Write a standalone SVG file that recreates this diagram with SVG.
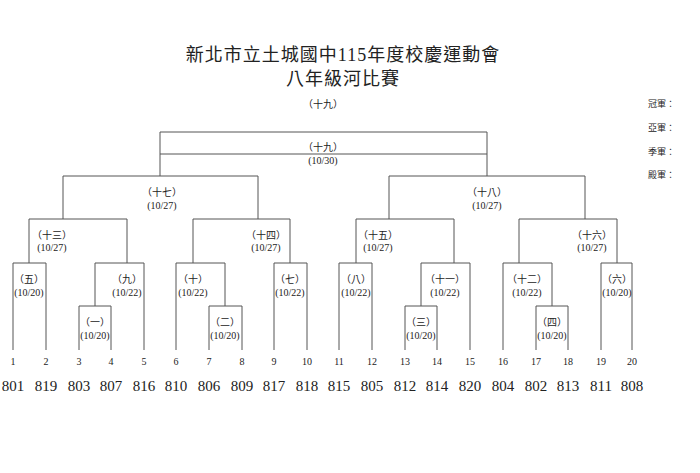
<svg xmlns="http://www.w3.org/2000/svg" width="700" height="473" viewBox="0 0 700 473">
<style>
text{font-family:"Liberation Serif","Noto Sans CJK TC",serif;fill:#222;text-anchor:middle}
.t{font-size:18px;letter-spacing:1px}
.l{font-size:10px}
.n{font-size:10px}
.s{font-size:15px}
.r{font-size:9px;text-anchor:start}
#connectors path{fill:none;stroke:#555;stroke-width:1}
</style>
<rect width="700" height="473" fill="#fff"/>
<g id="title">
<text class="t" x="343" y="61">新北市立土城國中115年度校慶運動會</text>
<text class="t" x="343" y="85">八年級河比賽</text>
<text class="l" x="323" y="108">（十九）</text>
</g>
<g id="awards">
<text class="r" x="648" y="107">冠軍：</text>
<text class="r" x="648" y="131">亞軍：</text>
<text class="r" x="648" y="155">季軍：</text>
<text class="r" x="648" y="178">殿軍：</text>
</g>
<g id="connectors">
<path d="M160,154V132H487V154M160,154H487M160,154V176M487,154V176"/>
<path d="M63,219V176H258V219M389,219V176H585V219"/>
<path d="M29,263V219H127V263M193,263V219H290V263M356,263V219H454V263M519,263V219H617V263"/>
<path d="M13,350V263H46V350"/>
<path d="M95,306V263H144V350"/>
<path d="M176,350V263H225V306"/>
<path d="M274,350V263H307V350"/>
<path d="M339,350V263H372V350"/>
<path d="M421,306V263H470V350"/>
<path d="M503,350V263H552V306"/>
<path d="M601,350V263H632V350"/>
<path d="M79,350V306H111V350M209,350V306H242V350M405,350V306H437V350M536,350V306H568V350"/>
</g>
<g id="m19"><text class="l" x="323" y="151">（十九）</text><text class="l" x="323" y="164">(10/30)</text></g>
<g id="m17"><text class="l" x="162" y="196">（十七）</text><text class="l" x="162" y="209">(10/27)</text></g>
<g id="m18"><text class="l" x="487" y="196">（十八）</text><text class="l" x="487" y="209">(10/27)</text></g>
<g id="m13"><text class="l" x="52" y="239">（十三）</text><text class="l" x="52" y="251">(10/27)</text></g>
<g id="m14"><text class="l" x="266" y="239">（十四）</text><text class="l" x="266" y="251">(10/27)</text></g>
<g id="m15"><text class="l" x="378" y="239">（十五）</text><text class="l" x="378" y="251">(10/27)</text></g>
<g id="m16"><text class="l" x="592" y="239">（十六）</text><text class="l" x="592" y="251">(10/27)</text></g>
<g id="m5"><text class="l" x="29" y="283">（五）</text><text class="l" x="29" y="296">(10/20)</text></g>
<g id="m9"><text class="l" x="127" y="283">（九）</text><text class="l" x="127" y="296">(10/22)</text></g>
<g id="m10"><text class="l" x="193" y="283">（十）</text><text class="l" x="193" y="296">(10/22)</text></g>
<g id="m7"><text class="l" x="290" y="283">（七）</text><text class="l" x="290" y="296">(10/22)</text></g>
<g id="m8"><text class="l" x="356" y="283">（八）</text><text class="l" x="356" y="296">(10/22)</text></g>
<g id="m11"><text class="l" x="445" y="283">（十一）</text><text class="l" x="445" y="296">(10/22)</text></g>
<g id="m12"><text class="l" x="527" y="283">（十二）</text><text class="l" x="527" y="296">(10/22)</text></g>
<g id="m6"><text class="l" x="617" y="283">（六）</text><text class="l" x="617" y="296">(10/20)</text></g>
<g id="m1"><text class="l" x="95" y="326">（一）</text><text class="l" x="95" y="339">(10/20)</text></g>
<g id="m2"><text class="l" x="225" y="326">（二）</text><text class="l" x="225" y="339">(10/20)</text></g>
<g id="m3"><text class="l" x="421" y="326">（三）</text><text class="l" x="421" y="339">(10/20)</text></g>
<g id="m4"><text class="l" x="552" y="326">（四）</text><text class="l" x="552" y="339">(10/20)</text></g>
<g id="slots">
<text class="n" x="13" y="365">1</text><text class="n" x="46" y="365">2</text><text class="n" x="79" y="365">3</text><text class="n" x="111" y="365">4</text><text class="n" x="144" y="365">5</text><text class="n" x="176" y="365">6</text><text class="n" x="209" y="365">7</text><text class="n" x="242" y="365">8</text><text class="n" x="274" y="365">9</text><text class="n" x="307" y="365">10</text><text class="n" x="339" y="365">11</text><text class="n" x="372" y="365">12</text><text class="n" x="405" y="365">13</text><text class="n" x="437" y="365">14</text><text class="n" x="470" y="365">15</text><text class="n" x="503" y="365">16</text><text class="n" x="536" y="365">17</text><text class="n" x="568" y="365">18</text><text class="n" x="601" y="365">19</text><text class="n" x="632" y="365">20</text>
</g>
<g id="teams">
<text class="s" x="13" y="391">801</text><text class="s" x="46" y="391">819</text><text class="s" x="79" y="391">803</text><text class="s" x="111" y="391">807</text><text class="s" x="144" y="391">816</text><text class="s" x="176" y="391">810</text><text class="s" x="209" y="391">806</text><text class="s" x="242" y="391">809</text><text class="s" x="274" y="391">817</text><text class="s" x="307" y="391">818</text><text class="s" x="339" y="391">815</text><text class="s" x="372" y="391">805</text><text class="s" x="405" y="391">812</text><text class="s" x="437" y="391">814</text><text class="s" x="470" y="391">820</text><text class="s" x="503" y="391">804</text><text class="s" x="536" y="391">802</text><text class="s" x="568" y="391">813</text><text class="s" x="601" y="391">811</text><text class="s" x="632" y="391">808</text>
</g>
</svg>
